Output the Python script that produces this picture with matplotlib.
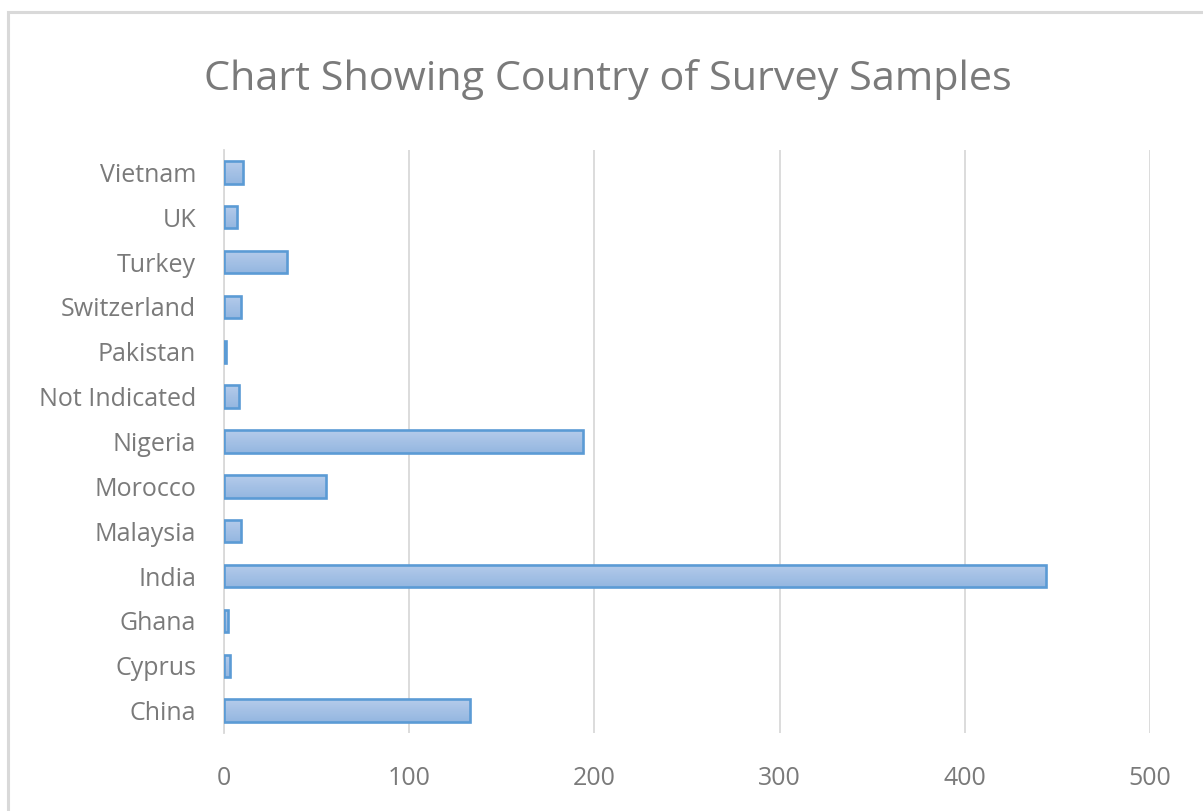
import numpy as np
import matplotlib.pyplot as plt
from matplotlib.colors import LinearSegmentedColormap
from matplotlib.patches import Rectangle

# donnees de l'enquete
pays = ["China", "Cyprus", "Ghana", "India", "Malaysia", "Morocco", "Nigeria",
        "Not Indicated", "Pakistan", "Switzerland", "Turkey", "UK", "Vietnam"]
effectifs = [133, 3, 2, 444, 9, 55, 194, 8, 1, 9, 34, 7, 10]
graduations = [0, 100, 200, 300, 400, 500]
titre = "Chart Showing Country of Survey Samples"

police = ["Open Sans", "DejaVu Sans"]
gris_texte = "#7a7a7a"
gris_ligne = "#d9d9d9"
bleu_bord = "#5b9bd5"
degrade = LinearSegmentedColormap.from_list("barre", ["#b5cceb", "#94b6e0"])

fig = plt.figure(figsize=(12.03, 8.11), dpi=100)

# cadre exterieur du graphique
fig.patches.append(Rectangle((8 / 1203, -0.1), 1.2, 1 - 12 / 811 + 0.1,
                             transform=fig.transFigure, fill=False,
                             edgecolor=gris_ligne, linewidth=2.2))

ax = fig.add_axes([224 / 1203, 1 - 733 / 811, (1150 - 224) / 1203, (733 - 150) / 811])

y = np.arange(len(pays))
barres = ax.barh(y, effectifs, height=0.5, color="none", edgecolor=bleu_bord,
                 linewidth=1.9, zorder=3)

# remplissage en degrade vertical de chaque barre
grad = np.linspace(0, 1, 64).reshape(-1, 1)
for b in barres:
    x0, y0 = b.get_x(), b.get_y()
    w, h = b.get_width(), b.get_height()
    im = ax.imshow(grad, cmap=degrade, aspect="auto", origin="lower",
                   extent=(x0, x0 + w, y0 + h, y0), zorder=2)
    im.set_clip_path(b)

ax.set_xlim(0, 500)
ax.set_ylim(-0.5, len(pays) - 0.5)
ax.set_xticks(graduations)
ax.set_yticks(y)
ax.set_yticklabels(pays)
ax.xaxis.grid(True, color=gris_ligne, linewidth=1.3, zorder=0)
ax.set_axisbelow(True)
for s in ["top", "right", "bottom"]:
    ax.spines[s].set_visible(False)
ax.spines["left"].set_color(gris_ligne)
ax.spines["left"].set_linewidth(1.3)
ax.tick_params(axis="both", length=0, labelcolor=gris_texte, labelsize=18)
ax.tick_params(axis="y", pad=20)
ax.tick_params(axis="x", pad=24)
for lab in ax.get_xticklabels() + ax.get_yticklabels():
    lab.set_family(police)

fig.text(608 / 1203, 1 - 80 / 811, titre, ha="center", va="center",
         fontsize=29.8, color=gris_texte, family=police)

fig.savefig("out.png", dpi=100)
